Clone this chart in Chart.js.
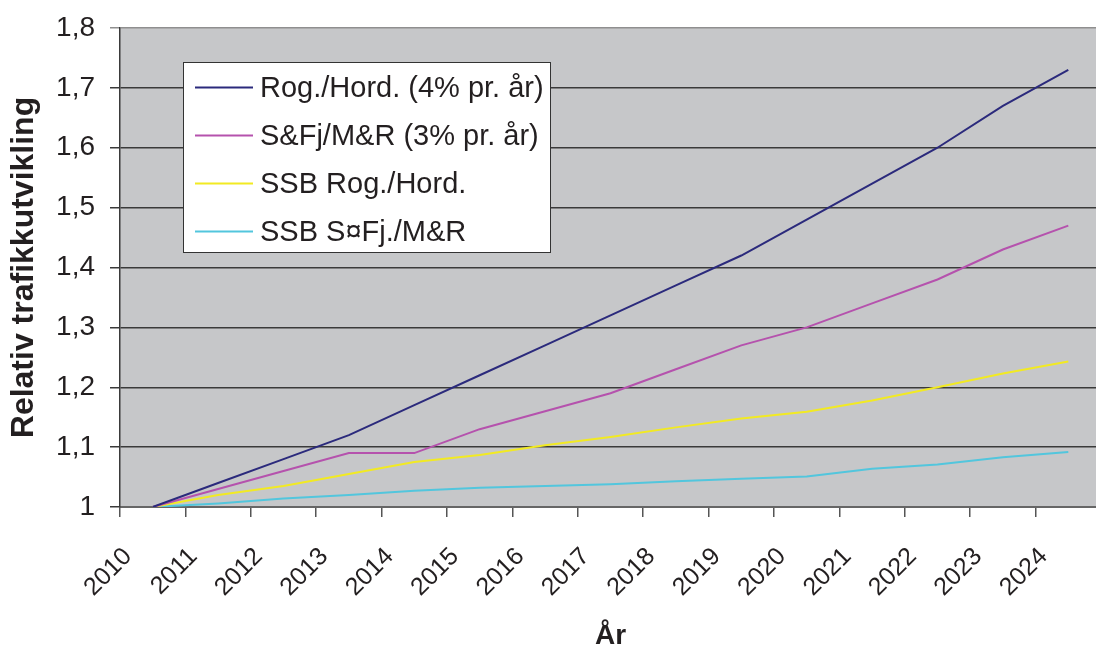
<!DOCTYPE html>
<html>
<head>
<meta charset="utf-8">
<script src="https://cdn.jsdelivr.net/npm/chart.js@4"></script>
<style>
  html, body { margin: 0; padding: 0; background: #fff; overflow: hidden; }
  canvas { display: block; }
</style>
</head>
<body>
<canvas id="myChart" width="1102" height="653"></canvas>
<script>
'use strict'
// data
var years = ['2010', '2011', '2012', '2013', '2014', '2015', '2016', '2017', '2018', '2019', '2020', '2021', '2022', '2023', '2024'];
var rogHord = [1.00, 1.04, 1.08, 1.12, 1.17, 1.22, 1.27, 1.32, 1.37, 1.42, 1.48, 1.54, 1.60, 1.67, 1.73];
var sfjMr = [1.00, 1.03, 1.06, 1.09, 1.09, 1.13, 1.16, 1.19, 1.23, 1.27, 1.30, 1.34, 1.38, 1.43, 1.47];
var ssbRogHord = [1.00, 1.02, 1.035, 1.055, 1.075, 1.087, 1.103, 1.117, 1.133, 1.148, 1.159, 1.178, 1.200, 1.223, 1.243];
var ssbSfjMr = [1.00, 1.006, 1.014, 1.02, 1.027, 1.032, 1.035, 1.038, 1.043, 1.047, 1.051, 1.064, 1.071, 1.083, 1.092];
var seriesNames = ['Rog./Hord. (4% pr. år)', 'S&Fj/M&R (3% pr. år)', 'SSB Rog./Hord.', 'SSB S¤Fj./M&R'];
var yTicks = [1, 1.1, 1.2, 1.3, 1.4, 1.5, 1.6, 1.7, 1.8];

var colors = ['#2b2a7c', '#b552ad', '#f2ea22', '#52c6dd'];
var fontName = "'Liberation Sans', Arial, sans-serif";

// points sit in the middle of each year slot, the year label sits on the slot start
function toPoints(values) {
    var pts = [];
    for (var i = 0; i < values.length; i++) {
        pts.push({ x: i + 0.5, y: values[i] });
    }
    return pts;
}

var allSeries = [rogHord, sfjMr, ssbRogHord, ssbSfjMr];
var datasets = [];
for (var s = 0; s < allSeries.length; s++) {
    datasets.push({
        label: seriesNames[s],
        data: toPoints(allSeries[s]),
        borderColor: colors[s],
        backgroundColor: colors[s],
        borderWidth: 2,
        pointRadius: 0,
        tension: 0
    });
}

// gray plot background
var plotBackground = {
    id: 'plotBackground',
    beforeDraw: function (chart) {
        var a = chart.chartArea;
        var ctx = chart.ctx;
        ctx.save();
        ctx.fillStyle = '#c6c7c9';
        ctx.fillRect(a.left, a.top, a.right - a.left, a.bottom - a.top);
        ctx.restore();
    }
};

// legend box inside the plot
var boxLegend = {
    id: 'boxLegend',
    afterDraw: function (chart) {
        var a = chart.chartArea;
        var ctx = chart.ctx;
        var left = a.left + 63;
        var top = a.top + 34;
        var w = 367;
        var h = 190;
        ctx.save();
        ctx.fillStyle = '#ffffff';
        ctx.fillRect(left, top, w, h);
        ctx.strokeStyle = '#333333';
        ctx.lineWidth = 1;
        ctx.strokeRect(left + 0.5, top + 0.5, w, h);
        ctx.font = '29px ' + fontName;
        ctx.textBaseline = 'middle';
        ctx.textAlign = 'left';
        chart.data.datasets.forEach(function (ds, i) {
            var y = top + 25.5 + i * 48;
            ctx.strokeStyle = ds.borderColor;
            ctx.lineWidth = 2;
            ctx.beginPath();
            ctx.moveTo(left + 12, y);
            ctx.lineTo(left + 70, y);
            ctx.stroke();
            ctx.fillStyle = '#231f20';
            ctx.fillText(ds.label, left + 77, y + 1);
        });
        ctx.restore();
    }
};

var ctx = document.getElementById('myChart').getContext('2d');
var chart = new Chart(ctx, {
    type: 'line',
    data: { datasets: datasets },
    options: {
        responsive: false,
        animation: false,
        layout: { padding: { top: 28, right: 1, left: 0, bottom: 0 } },
        plugins: {
            legend: { display: false },
            tooltip: { enabled: false }
        },
        scales: {
            x: {
                type: 'linear',
                min: 0,
                max: years.length,
                afterFit: function (scale) {
                    scale.height = 146;
                    scale.paddingRight = 0;
                },
                afterBuildTicks: function (scale) {
                    var t = [];
                    for (var i = 0; i <= years.length; i++) t.push({ value: i });
                    scale.ticks = t;
                },
                ticks: {
                    autoSkip: false,
                    minRotation: 45,
                    maxRotation: 45,
                    padding: 25,
                    labelOffset: 8,
                    color: '#231f20',
                    font: { family: fontName, size: 25 },
                    callback: function (v) { return v < years.length ? years[v] : ''; }
                },
                grid: {
                    drawOnChartArea: false,
                    drawTicks: true,
                    tickLength: 10,
                    color: '#555555',
                    lineWidth: 1.5
                },
                border: { display: true, color: '#666666', width: 2 },
                title: {
                    display: true,
                    text: 'År',
                    color: '#231f20',
                    font: { family: fontName, size: 28, weight: 'bold' },
                    padding: { top: 0, bottom: 0 }
                }
            },
            y: {
                min: 1,
                max: 1.8,
                afterFit: function (scale) {
                    scale.width = 120;
                    scale.paddingTop = 0;
                    scale.paddingBottom = 0;
                },
                afterBuildTicks: function (scale) {
                    scale.ticks = yTicks.map(function (v) { return { value: v }; });
                },
                ticks: {
                    padding: 15,
                    color: '#231f20',
                    font: { family: fontName, size: 28 },
                    callback: function (v) {
                        return v === 1 ? '1' : v.toFixed(1).replace('.', ',');
                    }
                },
                grid: {
                    tickLength: 10,
                    lineWidth: 1.5,
                    color: function (c) {
                        return c.tick && c.tick.value === 1.8 ? '#8f8f8f' : '#3a3a3a';
                    }
                },
                border: { display: true, color: '#3a3a3a', width: 1.5 },
                title: {
                    display: true,
                    text: 'Relativ trafikkutvikling',
                    color: '#231f20',
                    font: { family: fontName, size: 32, weight: 'bold' },
                    padding: { top: 5, bottom: 0 }
                }
            }
        }
    },
    plugins: [plotBackground, boxLegend]
});
</script>
</body>
</html>
